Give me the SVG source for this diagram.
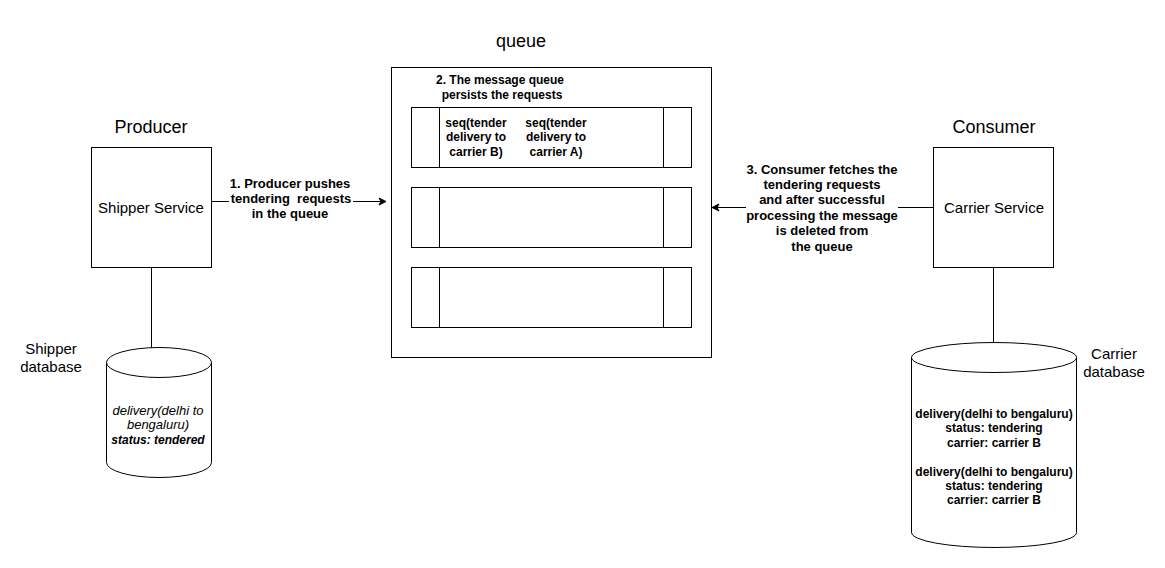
<svg xmlns="http://www.w3.org/2000/svg" width="1165" height="568" viewBox="0 0 1165 568">
<defs>
<style>
.box{fill:#fff;stroke:#000;stroke-width:1}
.ln{fill:none;stroke:#000;stroke-width:1}
text{font-family:"Liberation Sans",Arial,sans-serif;fill:#000;text-anchor:middle}
.t18{font-size:18px}
.t14{font-size:15px}
.b12{font-size:12px;font-weight:bold}
.b13{font-size:13px;font-weight:bold}
.i12{font-size:13px;font-style:italic}
.lbl{fill:#fff;stroke:none}
</style>
<marker id="arr" markerWidth="10" markerHeight="10" refX="8" refY="5" orient="auto" markerUnits="userSpaceOnUse">
<path d="M1,1.5 L8,5 L1,8.5 L3,5 Z" fill="#000" stroke="#000" stroke-width="1"/>
</marker>
</defs>
<rect width="1165" height="568" fill="#fff"/>

<g id="connectors">
<line class="ln" x1="211" y1="201.5" x2="386" y2="201.5" marker-end="url(#arr)"/>
<line class="ln" x1="933" y1="207.5" x2="712" y2="207.5" marker-end="url(#arr)"/>
<line class="ln" x1="151.5" y1="267" x2="151.5" y2="348"/>
<line class="ln" x1="993.5" y1="267" x2="993.5" y2="343"/>
<g id="label1">
<rect class="lbl" x="229" y="175" width="124" height="48"/>
<text class="b13" x="290" y="188">1. Producer pushes</text>
<text class="b13" x="291" y="203">tendering&#160; requests</text>
<text class="b13" x="290" y="218">in the queue</text>
</g>
<g id="label3">
<rect class="lbl" x="746" y="161" width="152" height="94"/>
<text class="b13" x="822" y="174">3. Consumer fetches the</text>
<text class="b13" x="822" y="189">tendering requests</text>
<text class="b13" x="822" y="204">and after successful</text>
<text class="b13" x="822" y="220">processing the message</text>
<text class="b13" x="822" y="235">is deleted from</text>
<text class="b13" x="822" y="251">the queue</text>
</g>
</g>

<g id="queue">
<text class="t18" x="521" y="47">queue</text>
<rect class="box" x="391.5" y="67.5" width="320" height="290"/>
<text class="b12" x="500" y="84">2. The message queue</text>
<text class="b12" x="502" y="99">persists the requests</text>
<g id="row1">
<rect class="box" x="411.5" y="107.5" width="280" height="60"/>
<line class="ln" x1="439.5" y1="107.5" x2="439.5" y2="167.5"/>
<line class="ln" x1="663.5" y1="107.5" x2="663.5" y2="167.5"/>
<text class="b12" x="476" y="127">seq(tender</text>
<text class="b12" x="476" y="141">delivery to</text>
<text class="b12" x="476" y="156">carrier B)</text>
<text class="b12" x="556" y="127">seq(tender</text>
<text class="b12" x="556" y="141">delivery to</text>
<text class="b12" x="556" y="156">carrier A)</text>
</g>
<g id="row2">
<rect class="box" x="411.5" y="187.5" width="280" height="60"/>
<line class="ln" x1="439.5" y1="187.5" x2="439.5" y2="247.5"/>
<line class="ln" x1="663.5" y1="187.5" x2="663.5" y2="247.5"/>
</g>
<g id="row3">
<rect class="box" x="411.5" y="267.5" width="280" height="60"/>
<line class="ln" x1="439.5" y1="267.5" x2="439.5" y2="327.5"/>
<line class="ln" x1="663.5" y1="267.5" x2="663.5" y2="327.5"/>
</g>
</g>

<g id="producer">
<text class="t18" x="151" y="133">Producer</text>
<rect class="box" x="91.5" y="147.5" width="120" height="120"/>
<text class="t14" x="151" y="213">Shipper Service</text>
</g>

<g id="consumer">
<text class="t18" x="994" y="133">Consumer</text>
<rect class="box" x="933.5" y="147.5" width="120" height="120"/>
<text class="t14" x="994" y="213">Carrier Service</text>
</g>

<g id="shipper-db">
<path class="box" d="M106.5,362.5 A52.5,15 0 0 1 211.5,362.5 L211.5,462.5 A52.5,15 0 0 1 106.5,462.5 Z"/>
<path class="ln" d="M106.5,362.5 A52.5,15 0 0 0 211.5,362.5"/>
<text class="i12" x="158" y="415">delivery(delhi to</text>
<text class="i12" x="158" y="429">bengaluru)</text>
<text class="b12" x="158" y="444" font-style="italic">status: tendered</text>
<text class="t14" x="51" y="354">Shipper</text>
<text class="t14" x="51" y="372">database</text>
</g>

<g id="carrier-db">
<path class="box" d="M911.5,357.5 A82.5,15 0 0 1 1076.5,357.5 L1076.5,532.5 A82.5,15 0 0 1 911.5,532.5 Z"/>
<path class="ln" d="M911.5,357.5 A82.5,15 0 0 0 1076.5,357.5"/>
<text class="b12" x="994" y="418">delivery(delhi to bengaluru)</text>
<text class="b12" x="994" y="432">status: tendering</text>
<text class="b12" x="994" y="447">carrier: carrier B</text>
<text class="b12" x="994" y="476">delivery(delhi to bengaluru)</text>
<text class="b12" x="994" y="490">status: tendering</text>
<text class="b12" x="994" y="504">carrier: carrier B</text>
<text class="t14" x="1114" y="359">Carrier</text>
<text class="t14" x="1114" y="377">database</text>
</g>
</svg>
